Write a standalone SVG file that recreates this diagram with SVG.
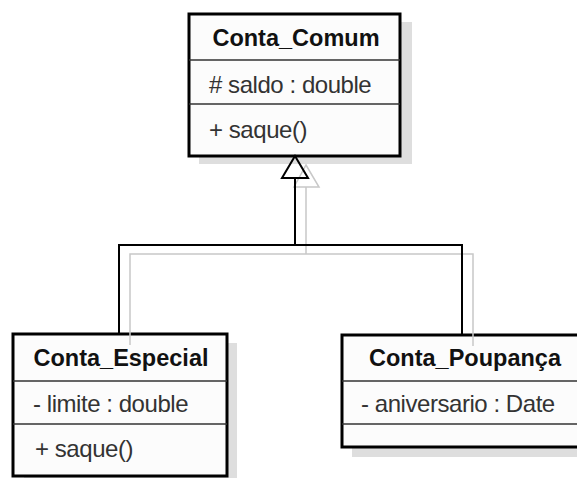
<svg xmlns="http://www.w3.org/2000/svg" width="577" height="478" viewBox="0 0 577 478">
<style>
.shadow{fill:#dedede;stroke:none}
.box{fill:#fcfcfc;stroke:#000;stroke-width:3}
.sep{stroke:#333;stroke-width:1.5}
.title{font-family:"Liberation Sans",Arial,sans-serif;font-weight:bold;font-size:23.5px;fill:#111;text-anchor:middle}
.txt{font-family:"Liberation Sans",Arial,sans-serif;font-size:24px;letter-spacing:-0.45px;fill:#333}
.conn{fill:none;stroke:#000;stroke-width:2}
.connsh{fill:none;stroke:#c8c8c8;stroke-width:1.5}
</style>
<rect width="577" height="478" fill="#fff"/>
<g id="shadows">
<rect class="shadow" x="199" y="22" width="213" height="142"/>
<rect class="shadow" x="24" y="343" width="213" height="145"/>
<rect class="shadow" x="352" y="344" width="240" height="113"/>
</g>
<g id="Conta_Comum">
<rect class="box" x="189" y="14" width="211" height="142"/>
<line class="sep" x1="189" y1="60" x2="400" y2="60"/>
<line class="sep" x1="189" y1="104" x2="400" y2="104"/>
<text class="title" x="296" y="46">Conta_Comum</text>
<text class="txt" x="209" y="93"># saldo : double</text>
<text class="txt" x="209" y="138">+ saque()</text>
</g>
<g id="Conta_Especial">
<rect class="box" x="13" y="334" width="214" height="142"/>
<line class="sep" x1="13" y1="381" x2="227" y2="381"/>
<line class="sep" x1="13" y1="424" x2="227" y2="424"/>
<text class="title" x="121" y="366">Conta_Especial</text>
<text class="txt" x="33" y="412">- limite : double</text>
<text class="txt" x="35" y="457">+ saque()</text>
</g>
<g id="Conta_Poupanca">
<rect class="box" x="342" y="335" width="250" height="112"/>
<line class="sep" x1="342" y1="381" x2="592" y2="381"/>
<line class="sep" x1="342" y1="424" x2="592" y2="424"/>
<text class="title" x="465" y="366">Conta_Poupança</text>
<text class="txt" x="361" y="412">- aniversario : Date</text>
</g>
<g id="connectors">
<path class="connsh" d="M306,165 L319,187 L294,187 Z"/>
<path class="connsh" d="M306,187 V254 M130,345 V254 H473 V346"/>
<path class="conn" d="M295,178 V245 M119,334 V245 H462 V335"/>
<path class="conn" d="M295,156 L308,178 L282,178 Z" fill="#fff"/>
</g>
</svg>
